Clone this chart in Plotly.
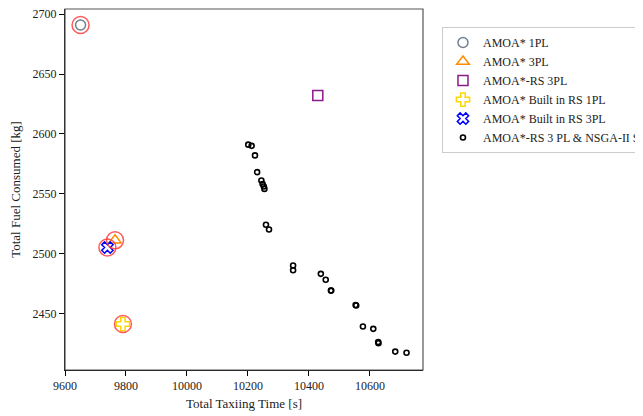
import plotly.graph_objects as go

# Data
amoa_1pl_x = [9651]
amoa_1pl_y = [2691]
amoa_3pl_x = [9764]
amoa_3pl_y = [2511]
amoa_rs_3pl_x = [10429]
amoa_rs_3pl_y = [2632]
built_rs_1pl_x = [9790]
built_rs_1pl_y = [2441]
built_rs_3pl_x = [9739]
built_rs_3pl_y = [2505]
nsga_x = [10201, 10212, 10223, 10230, 10244, 10248, 10252, 10254, 10259, 10269,
          10348, 10348, 10439, 10455, 10472, 10473, 10553, 10555, 10577, 10611,
          10627, 10628, 10683, 10720]
nsga_y = [2591, 2590, 2582, 2568, 2561, 2558, 2556, 2554, 2524, 2520,
          2490, 2486, 2483, 2478, 2469, 2469, 2457, 2456.5, 2439, 2437,
          2426, 2425, 2418, 2417]

x_ticks = [9600, 9800, 10000, 10200, 10400, 10600]
y_ticks = [2450, 2500, 2550, 2600, 2650, 2700]

highlight_x = amoa_1pl_x + amoa_3pl_x + built_rs_1pl_x + built_rs_3pl_x
highlight_y = amoa_1pl_y + amoa_3pl_y + built_rs_1pl_y + built_rs_3pl_y

FONT = "Liberation Serif"

fig = go.Figure()

def add(name, x, y, symbol, color, size, lw=1.5, legend=True):
    fig.add_trace(go.Scatter(
        x=x, y=y, mode="markers", name=name, showlegend=legend,
        marker=dict(symbol=symbol, size=size, color=color,
                    line=dict(color=color, width=lw)),
    ))

add("AMOA* 1PL", amoa_1pl_x, amoa_1pl_y, "circle-open", "#708090", 10)
add("AMOA* 3PL", amoa_3pl_x, amoa_3pl_y, "triangle-up-open", "#FF8C00", 11)
add("AMOA*-RS 3PL", amoa_rs_3pl_x, amoa_rs_3pl_y, "square-open", "#8B1A8B", 10)
add("AMOA* Built in RS 1PL", built_rs_1pl_x, built_rs_1pl_y, "cross-open", "#FFD700", 11)
add("AMOA* Built in RS 3PL", built_rs_3pl_x, built_rs_3pl_y, "x-open", "#0000FF", 10)
add("AMOA*-RS 3 PL & NSGA-II SI", nsga_x, nsga_y, "circle-open", "#000000", 5, lw=1.6)
add("highlight", highlight_x, highlight_y, "circle-open", "rgba(255,50,50,0.8)", 17, lw=1.5, legend=False)

# page body has an 8px default margin; size the figure to fit the window
fig.update_layout(
    width=635, height=408,
    margin=dict(l=57, r=220, t=1, b=46, autoexpand=False),
    paper_bgcolor="white", plot_bgcolor="white",
    font=dict(family=FONT, size=12, color="#222222"),
    showlegend=True,
    legend=dict(x=1.053, y=0.95, xanchor="left", yanchor="top",
                bordercolor="#cccccc", borderwidth=1, bgcolor="white",
                font=dict(family=FONT, size=12, color="#222222"),
                itemsizing="trace"),
    xaxis=dict(range=[9600, 10774], tickvals=x_ticks, ticktext=[str(v) for v in x_ticks],
               ticks="outside", ticklen=5, tickcolor="#000", showgrid=False, zeroline=False,
               showline=True, linecolor="#000", linewidth=1, automargin=False,
               ticklabeloverflow="allow",
               title=dict(text="Total Taxiing Time [s]", font=dict(size=13), standoff=6),
               tickfont=dict(size=12)),
    yaxis=dict(range=[2402.6, 2704.4], tickvals=y_ticks, ticktext=[str(v) for v in y_ticks],
               ticks="outside", ticklen=5, tickcolor="#000", showgrid=False, zeroline=False,
               showline=True, linecolor="#000", linewidth=1, automargin=False,
               ticklabeloverflow="allow",
               title=dict(text="Total Fuel Consumed [kg]", font=dict(size=13), standoff=9),
               tickfont=dict(size=12)),
    shapes=[dict(type="rect", xref="paper", yref="paper", x0=0, x1=1, y0=0, y1=1,
                 line=dict(color="#555555", width=1.2), fillcolor="rgba(0,0,0,0)", layer="above")],
)

fig.write_html("out.html")
